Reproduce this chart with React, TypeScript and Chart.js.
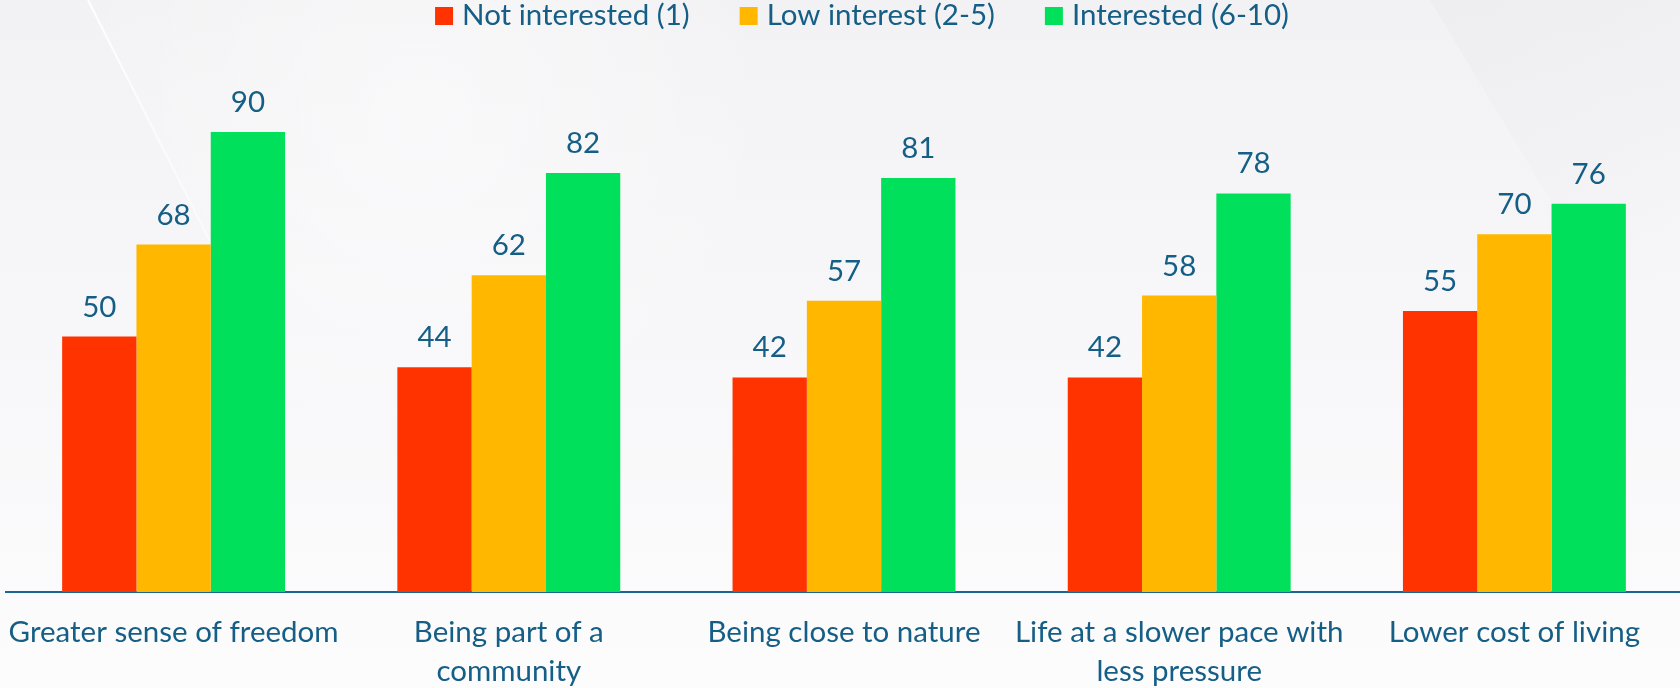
import React, { useEffect, useRef } from "react";
import { Chart, registerables } from "chart.js";

Chart.register(...registerables);

const categories: (string | string[])[] = [
  "Greater sense of freedom",
  ["Being part of a", "community"],
  "Being close to nature",
  ["Life at a slower pace with", "less pressure"],
  "Lower cost of living",
];
const seriesNames = ["Not interested (1)", "Low interest (2-5)", "Interested (6-10)"];
const notInterested = [50, 44, 42, 42, 55];
const lowInterest = [68, 62, 57, 58, 70];
const interested = [90, 82, 81, 78, 76];
const seriesColors = ["#FF3300", "#FFB700", "#00E05A"];

const TEXT_COLOR = "#155E86";
const AXIS_COLOR = "#1B6690";
const FONT_FAMILY = "Lato";
const FONT_SIZE = 29.5;

const backgroundPlugin = {
  id: "bg",
  beforeDraw(chart: any) {
    const { ctx, width, height } = chart;
    ctx.save();
    const g = ctx.createLinearGradient(0, 0, 0, height);
    g.addColorStop(0, "#F2F2F4");
    g.addColorStop(0.45, "#F7F7F9");
    g.addColorStop(1, "#FCFCFD");
    ctx.fillStyle = g;
    ctx.fillRect(0, 0, width, height);
    // soft light area to the right of the diagonal
    const r = ctx.createRadialGradient(420, 120, 20, 420, 120, 360);
    r.addColorStop(0, "rgba(255,255,255,0.45)");
    r.addColorStop(1, "rgba(255,255,255,0)");
    ctx.fillStyle = r;
    ctx.beginPath();
    ctx.moveTo(88, 0);
    ctx.lineTo(900, 0);
    ctx.lineTo(900, 480);
    ctx.lineTo(330, 480);
    ctx.closePath();
    ctx.fill();
    // faint white diagonal line
    const lg = ctx.createLinearGradient(88, 0, 300, 420);
    lg.addColorStop(0, "rgba(255,255,255,0.95)");
    lg.addColorStop(1, "rgba(255,255,255,0)");
    ctx.strokeStyle = lg;
    ctx.lineWidth = 2;
    ctx.beginPath();
    ctx.moveTo(88, 0);
    ctx.lineTo(300, 420);
    ctx.stroke();
    // subtle darker shape top right
    const rg = ctx.createLinearGradient(1450, 0, 1682, 250);
    rg.addColorStop(0, "rgba(230,230,235,0.35)");
    rg.addColorStop(1, "rgba(230,230,235,0)");
    ctx.fillStyle = rg;
    ctx.beginPath();
    ctx.moveTo(1430, 0);
    ctx.lineTo(1682, 0);
    ctx.lineTo(1682, 260);
    ctx.lineTo(1610, 300);
    ctx.closePath();
    ctx.fill();
    ctx.restore();
  },
};

const valueLabelPlugin = {
  id: "valueLabels",
  afterDatasetsDraw(chart: any) {
    const { ctx } = chart;
    ctx.save();
    ctx.font = `${FONT_SIZE}px ${FONT_FAMILY}`;
    ctx.fillStyle = TEXT_COLOR;
    ctx.textAlign = "center";
    ctx.textBaseline = "alphabetic";
    chart.data.datasets.forEach((ds: any, i: number) => {
      const meta = chart.getDatasetMeta(i);
      meta.data.forEach((el: any, j: number) => {
        ctx.fillText(String(ds.data[j]), el.x, el.y - 20);
      });
    });
    ctx.restore();
  },
};

const legendPlugin = {
  id: "customLegend",
  afterDraw(chart: any) {
    const { ctx } = chart;
    const box = 18;
    const gapText = 9;
    const gapItem = 50;
    ctx.save();
    ctx.font = `${FONT_SIZE}px ${FONT_FAMILY}`;
    ctx.textBaseline = "alphabetic";
    ctx.textAlign = "left";
    const items = chart.data.datasets.map((ds: any) => ({
      label: ds.label,
      color: ds.backgroundColor,
      w: ctx.measureText(ds.label).width,
    }));
    const total =
      items.reduce((s: number, it: any) => s + box + gapText + it.w, 0) + gapItem * (items.length - 1);
    let x = 862 - total / 2;
    items.forEach((it: any) => {
      ctx.fillStyle = it.color;
      ctx.fillRect(x, 7, box, box);
      ctx.fillStyle = TEXT_COLOR;
      ctx.fillText(it.label, x + box + gapText, 25);
      x += box + gapText + it.w + gapItem;
    });
    ctx.restore();
  },
};

export default function App() {
  const canvasRef = useRef<HTMLCanvasElement | null>(null);

  useEffect(() => {
    if (!canvasRef.current) return;
    const chart = new Chart(canvasRef.current, {
      type: "bar",
      data: {
        labels: categories,
        datasets: [
          { label: seriesNames[0], data: notInterested, backgroundColor: seriesColors[0] },
          { label: seriesNames[1], data: lowInterest, backgroundColor: seriesColors[1] },
          { label: seriesNames[2], data: interested, backgroundColor: seriesColors[2] },
        ],
      },
      options: {
        responsive: false,
        animation: false,
        devicePixelRatio: 1,
        layout: { padding: { top: 81, left: 6, right: 0, bottom: 0 } },
        datasets: {
          bar: { categoryPercentage: 0.665, barPercentage: 1.0, borderWidth: 0 },
        },
        plugins: {
          legend: { display: false },
          tooltip: { enabled: false },
        },
        scales: {
          x: {
            grid: { display: false, drawTicks: false },
            border: { display: true, color: AXIS_COLOR, width: 2 },
            ticks: {
              color: TEXT_COLOR,
              font: { family: FONT_FAMILY, size: FONT_SIZE, lineHeight: 1.32 },
              padding: 21,
              maxRotation: 0,
              autoSkip: false,
            },
            afterFit(scale: any) {
              scale.height = 96;
              scale.paddingLeft = 0;
              scale.paddingRight = 0;
            },
          },
          y: {
            display: false,
            min: 0,
            max: 100,
          },
        },
      },
      plugins: [backgroundPlugin, valueLabelPlugin, legendPlugin],
    });
    return () => chart.destroy();
  }, []);

  return (
    <div
      style={{
        position: "fixed",
        left: 0,
        top: 0,
        width: 1680,
        height: 688,
        overflow: "hidden",
      }}
    >
      <canvas ref={canvasRef} width={1682} height={688} style={{ display: "block" }} />
    </div>
  );
}
